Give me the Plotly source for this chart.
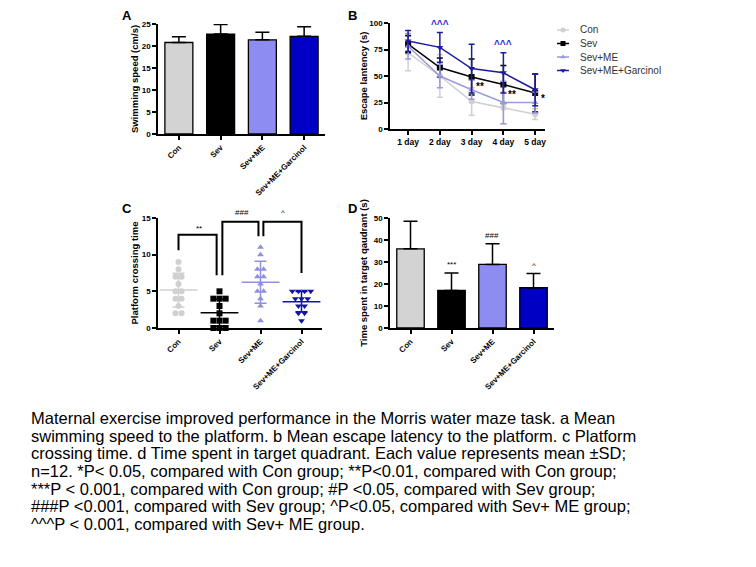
import plotly.graph_objects as go

# page body has an 8px margin; figure is placed at (8, 8)
OFF = 8
FW, FH = 740, 551

groups = ["Con", "Sev", "Sev+ME", "Sev+ME+Garcinol"]
bar_colors = ["#d3d3d3", "#000000", "#8c8cf2", "#0000c4"]
pt_colors = ["#d0d0d0", "#000000", "#8f8fe0", "#1515a5"]

# Panel A: swimming speed
speed_mean = [20.8, 22.7, 21.4, 22.2]
speed_sd = [1.3, 2.2, 1.7, 2.2]

# Panel B: escape latency
days = ["1 day", "2 day", "3 day", "4 day", "5 day"]
lat_con = [72, 50, 26, 20, 14]
lat_con_sd = [17, 20, 13, 15, 5]
lat_sev = [80, 58, 49, 42, 34]
lat_sev_sd = [8, 9, 17, 18, 18]
lat_me = [78, 50, 37, 25, 25]
lat_me_sd = [12, 11, 9, 20, 10]
lat_gar = [83, 77, 57, 53, 37]
lat_gar_sd = [10, 14, 23, 19, 15]
lat_markers = ["circle", "square", "triangle-up", "triangle-down"]
lat_colors = ["#d0d0d0", "#000000", "#9a9ae0", "#1c1c9c"]

# Panel C: platform crossing time (individual animals)
cross_con = [9, 8, 7, 7, 6, 5, 5, 4, 4, 3, 2, 2]
cross_sev = [5, 4, 4, 4, 3, 2, 1, 1, 1, 0, 0, 0]
cross_me = [11, 10, 8, 8, 7, 7, 6, 5, 5, 4, 3, 1]
cross_gar = [5, 5, 5, 5, 4, 4, 4, 3, 3, 2, 2, 1]
cross_markers = ["circle", "square", "triangle-up", "triangle-down"]

# Panel D: time in target quadrant
quad_mean = [36.0, 17.1, 28.9, 18.3]
quad_sd = [12.5, 7.9, 9.4, 6.5]

caption_lines = [
    "Maternal exercise improved performance in the Morris water maze task. a Mean",
    "swimming speed to the platform. b Mean escape latency to the platform. c Platform",
    "crossing time. d Time spent in target quadrant. Each value represents mean \u00b1SD;",
    "n=12. *P< 0.05, compared with Con group; **P<0.01, compared with Con group;",
    "***P < 0.001, compared with Con group; #P <0.05, compared with Sev group;",
    "###P <0.001, compared with Sev group; ^P<0.05, compared with Sev+ ME group;",
    "^^^P < 0.001, compared with Sev+ ME group.",
]

FONT = "Liberation Sans, Arial, sans-serif"


def px2x(px):
    return (px - OFF) / FW


def py2y(py):
    return 1 - (py - OFF) / FH


def xd(a, b):
    return [px2x(a), px2x(b)]


def yd(top, bottom):
    return [py2y(bottom), py2y(top)]


fig = go.Figure()

# ---------- Panel A ----------
fig.add_trace(go.Bar(
    x=list(range(4)), y=speed_mean, width=0.67,
    marker=dict(color=bar_colors, line=dict(color="black", width=1.3)),
    error_y=dict(type="data", array=speed_sd, arrayminus=[0] * 4, symmetric=False,
                 color="black", thickness=1.5, width=7),
    xaxis="x", yaxis="y", showlegend=False))

# ---------- Panel B ----------
lat_series = [(lat_con, lat_con_sd), (lat_sev, lat_sev_sd), (lat_me, lat_me_sd), (lat_gar, lat_gar_sd)]
for i, (m, s) in enumerate(lat_series):
    fig.add_trace(go.Scatter(
        x=days, y=m, mode="lines+markers", name=groups[i],
        line=dict(color=lat_colors[i], width=1.5),
        marker=dict(symbol=lat_markers[i], size=6, color=lat_colors[i]),
        error_y=dict(type="data", array=s, color=lat_colors[i], thickness=1.5, width=3),
        xaxis="x2", yaxis="y2", showlegend=False, cliponaxis=False))

# manual legend for B (axis 5 is a pixel-space helper axis)
leg_rows = [30, 43.5, 57, 70.5]
for i, yc in enumerate(leg_rows):
    fig.add_trace(go.Scatter(
        x=[557, 569], y=[yc, yc], mode="lines", line=dict(color=lat_colors[i], width=1.5),
        xaxis="x5", yaxis="y5", showlegend=False, hoverinfo="skip"))
    fig.add_trace(go.Scatter(
        x=[563], y=[yc], mode="markers",
        marker=dict(symbol=lat_markers[i], size=5, color=lat_colors[i]),
        xaxis="x5", yaxis="y5", showlegend=False, hoverinfo="skip"))
    fig.add_annotation(x=px2x(578), y=py2y(yc), xref="paper", yref="paper", text=groups[i],
                       showarrow=False, xanchor="left", yanchor="middle",
                       font=dict(size=10, family=FONT, color="#333333"))

# ---------- Panel C ----------
def offsets(vals, step=0.15):
    out = []
    seen = {}
    counts = {v: vals.count(v) for v in vals}
    for v in vals:
        k = seen.get(v, 0)
        seen[v] = k + 1
        n = counts[v]
        out.append((k - (n - 1) / 2) * step)
    return out


cross_sets = [cross_con, cross_sev, cross_me, cross_gar]
for i, vals in enumerate(cross_sets):
    offs = offsets(vals)
    fig.add_trace(go.Scatter(
        x=[i + o for o in offs], y=vals, mode="markers",
        marker=dict(symbol=cross_markers[i], size=6, color=pt_colors[i]),
        xaxis="x3", yaxis="y3", showlegend=False, cliponaxis=False))
    mean = sum(vals) / len(vals)
    sd = (sum((v - mean) ** 2 for v in vals) / (len(vals) - 1)) ** 0.5
    fig.add_trace(go.Scatter(
        x=[i], y=[mean], mode="markers",
        marker=dict(symbol="line-ew", size=27, line=dict(color=pt_colors[i], width=1.5)),
        error_y=dict(type="data", array=[sd], color=pt_colors[i], thickness=1.5, width=6),
        xaxis="x3", yaxis="y3", showlegend=False, cliponaxis=False))

C_TOP, C_BOT, C_MAX = 218, 328, 15.0
# significance brackets in C: (left group, right group, height, left leg end, right leg end, label, label height)
brackets = [
    (0, 1, 12.7, 10.6, 7.2, "**", 13.6),
    (1, 2, 14.5, 7.2, 12.5, "###", 15.8),
    (2, 3, 14.5, 12.5, 7.5, "^", 15.8),
]
leg_shift = {(0, 1): (0.0, -0.07), (1, 2): (0.07, -0.05), (2, 3): (0.07, 0.0)}
c_dom = yd(C_TOP, C_BOT)
for a, b, h, la, lb, lab, th in brackets:
    sa, sb = leg_shift[(a, b)]
    fig.add_trace(go.Scatter(
        x=[a + sa, a + sa, b + sb, b + sb], y=[la, h, h, lb], mode="lines",
        line=dict(color="black", width=2), xaxis="x3", yaxis="y3",
        showlegend=False, cliponaxis=False, hoverinfo="skip"))
    ypaper = c_dom[0] + (th / C_MAX) * (c_dom[1] - c_dom[0])
    fig.add_annotation(x=(a + b) / 2 + (0.05 if lab != "**" else 0), y=ypaper, text=lab,
                       showarrow=False, xref="x3", yref="paper",
                       font=dict(size=8, color="black", family=FONT))

# ---------- Panel D ----------
fig.add_trace(go.Bar(
    x=list(range(4)), y=quad_mean, width=0.67,
    marker=dict(color=bar_colors, line=dict(color="black", width=1.3)),
    error_y=dict(type="data", array=quad_sd, arrayminus=[0] * 4, symmetric=False,
                 color="black", thickness=1.5, width=7),
    xaxis="x4", yaxis="y4", showlegend=False))

d_marks = [("***", 1, 28.8), ("###", 2, 42.0), ("^", 3, 28.3)]
for lab, gi, yy in d_marks:
    fig.add_annotation(x=gi, y=yy, text=lab, showarrow=False, xref="x4", yref="y4",
                       font=dict(size=8, color="black", family=FONT))

b_marks = [("^^^", 1, 98.5, "#2a2ad0"), ("^^^", 3, 79.5, "#2a2ad0"),
           ("**", 2.27, 40, "black"), ("**", 3.27, 33, "black"), ("*", 4.24, 29, "black")]
for lab, xi, yy, c in b_marks:
    fig.add_annotation(x=xi, y=yy, text=lab, showarrow=False, xref="x2", yref="y2",
                       font=dict(size=10, color=c, family=FONT, weight="bold"))

# ---------- Axes ----------
tickfont = dict(size=8, family=FONT, color="black", weight="bold")
titlefont = dict(size=9.5, family=FONT, color="black", weight="bold")
common = dict(showline=True, linecolor="black", linewidth=1.5, ticks="outside", ticklen=4,
              tickwidth=1.5, tickcolor="black", showgrid=False, zeroline=False,
              tickfont=tickfont, automargin=False)

cat_x = dict(common, tickmode="array", tickvals=list(range(4)), ticktext=groups,
             tickangle=-45, range=[-0.5, 3.5])

fig.update_layout(
    xaxis=dict(cat_x, domain=xd(158, 325), anchor="y"),
    yaxis=dict(common, domain=yd(24, 134), anchor="x", range=[0, 25], dtick=5,
               title=dict(text="Swimming speed (cm/s)", font=titlefont, standoff=1)),
    xaxis2=dict(common, domain=xd(390, 545), anchor="y2", type="category", range=[-0.57, 4.31],
                tickfont=dict(tickfont, size=8.5)),
    yaxis2=dict(common, domain=yd(23, 129), anchor="x2", range=[0, 100], dtick=25,
                title=dict(text="Escape lantency (s)", font=titlefont, standoff=0)),
    xaxis3=dict(cat_x, domain=xd(158, 322), anchor="y3"),
    yaxis3=dict(common, domain=yd(C_TOP, C_BOT), anchor="x3", range=[0, C_MAX], dtick=5,
                title=dict(text="Platform crossing time", font=titlefont, standoff=1)),
    xaxis4=dict(cat_x, domain=xd(390, 554), anchor="y4"),
    yaxis4=dict(common, domain=yd(218, 328), anchor="x4", range=[0, 50], dtick=10,
                title=dict(text="Time spent in target qaudrant (s)", font=titlefont, standoff=4)),
    xaxis5=dict(domain=xd(550, 720), range=[550, 720], visible=False, anchor="y5", fixedrange=True),
    yaxis5=dict(domain=yd(20, 80), range=[80, 20], visible=False, anchor="x5", fixedrange=True),
    width=FW, height=FH, margin=dict(l=0, r=0, t=0, b=0),
    paper_bgcolor="white", plot_bgcolor="rgba(0,0,0,0)",
    showlegend=False,
)

for lab, px, py in [("A", 127, 16), ("B", 352, 16), ("C", 127, 208), ("D", 352, 208)]:
    fig.add_annotation(x=px2x(px), y=py2y(py), xref="paper", yref="paper", text=lab,
                       showarrow=False, xanchor="center", yanchor="middle",
                       font=dict(size=13, family=FONT, color="black", weight="bold"))

for i, line in enumerate(caption_lines):
    fig.add_annotation(x=px2x(29), y=py2y(418 + i * 17.67), xref="paper", yref="paper",
                       text=line, showarrow=False, xanchor="left", yanchor="middle",
                       font=dict(size=16.5, family=FONT, color="black"))

fig.write_html("out.html")
